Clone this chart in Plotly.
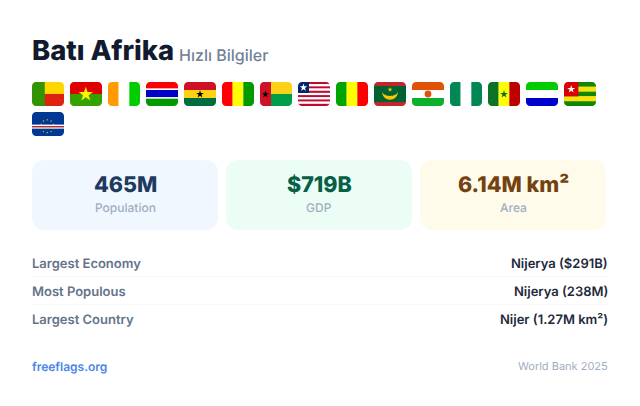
import math
import plotly.graph_objects as go

TITLE = "Batı Afrika"
SUBTITLE = "Hızlı Bilgiler"
FLAG_CODES = ["bj", "bf", "ci", "gm", "gh", "gn", "gw", "lr", "ml", "mr", "ne", "ng", "sn", "sl", "tg", "cv"]
STAT_VALUES = ["465M", "$719B", "6.14M km²"]
STAT_LABELS = ["Population", "GDP", "Area"]
STAT_BG = ["#f0f7ff", "#ebfdf5", "#fffbeb"]
STAT_FG = ["#1e3a5f", "#065f46", "#744210"]
FACT_LABELS = ["Largest Economy", "Most Populous", "Largest Country"]
FACT_VALUES = ["Nijerya ($291B)", "Nijerya (238M)", "Nijer (1.27M km²)"]
SOURCE_LEFT = "freeflags.org"
SOURCE_RIGHT = "World Bank 2025"

FONT = "Inter"
W, H = 640, 406
shapes, notes = [], []


def rrect(x0, y0, x1, y1, r):
    k = r * 0.4477
    return (f"M{x0+r},{y0} L{x1-r},{y0} C{x1-k},{y0} {x1},{y0+k} {x1},{y0+r} "
            f"L{x1},{y1-r} C{x1},{y1-k} {x1-k},{y1} {x1-r},{y1} "
            f"L{x0+r},{y1} C{x0+k},{y1} {x0},{y1-k} {x0},{y1-r} "
            f"L{x0},{y0+r} C{x0},{y0+k} {x0+k},{y0} {x0+r},{y0} Z")


def add_path(path, color):
    shapes.append(dict(type="path", path=path, fillcolor=color, line=dict(width=0), layer="above"))


def text(x, y, s, size, color, weight=400, anchor="left"):
    notes.append(dict(x=x, y=y, xref="x", yref="y", text=s, showarrow=False, xanchor=anchor,
                      yanchor="middle", borderpad=0, borderwidth=0,
                      font=dict(family=FONT, size=size, color=color, weight=weight)))


class Flag:
    """Draws in a 32x24 local box placed at (ox, oy)."""
    def __init__(self, ox, oy):
        self.ox, self.oy = ox, oy

    def rect(self, x0, y0, x1, y1, c):
        ox, oy = self.ox, self.oy
        add_path(f"M{ox+x0},{oy+y0} L{ox+x1},{oy+y0} L{ox+x1},{oy+y1} L{ox+x0},{oy+y1} Z", c)

    def hbands(self, *pairs):
        y = 0
        for h, c in pairs:
            self.rect(0, y, 32, y + h, c)
            y += h

    def vbands(self, *pairs):
        x = 0
        for w, c in pairs:
            self.rect(x, 0, x + w, 24, c)
            x += w

    def star(self, cx, cy, r, c):
        pts = []
        for i in range(10):
            rad = r if i % 2 == 0 else r * 0.382
            a = -math.pi / 2 + i * math.pi / 5
            pts.append(f"{self.ox+cx+rad*math.cos(a):.2f},{self.oy+cy+rad*math.sin(a):.2f}")
        add_path("M" + " L".join(pts) + " Z", c)

    def circle(self, cx, cy, r, c):
        ox, oy = self.ox, self.oy
        shapes.append(dict(type="circle", x0=ox+cx-r, x1=ox+cx+r, y0=oy+cy-r, y1=oy+cy+r,
                           fillcolor=c, line=dict(width=0), layer="above"))

    def raw(self, cmds, c):
        out = []
        for cmd, *nums in cmds:
            xy = [f"{self.ox+nums[i]},{self.oy+nums[i+1]}" for i in range(0, len(nums), 2)]
            out.append(cmd + " ".join(xy))
        add_path(" ".join(out) + " Z", c)

    def mask(self, r=4):
        ox, oy = self.ox, self.oy
        k = r * 0.4477
        x0, y0, x1, y1 = ox, oy, ox + 32, oy + 24
        add_path(f"M{x0},{y0} L{x0+r},{y0} C{x0+k},{y0} {x0},{y0+k} {x0},{y0+r} Z", "#ffffff")
        add_path(f"M{x1},{y0} L{x1-r},{y0} C{x1-k},{y0} {x1},{y0+k} {x1},{y0+r} Z", "#ffffff")
        add_path(f"M{x0},{y1} L{x0+r},{y1} C{x0+k},{y1} {x0},{y1-k} {x0},{y1-r} Z", "#ffffff")
        add_path(f"M{x1},{y1} L{x1-r},{y1} C{x1-k},{y1} {x1},{y1-k} {x1},{y1-r} Z", "#ffffff")


def draw_flag(code, f):
    third = 32 / 3
    if code == "bj":
        f.rect(0, 0, 32, 12, "#ffd600")
        f.rect(0, 12, 32, 24, "#de2110")
        f.rect(0, 0, 12.8, 24, "#319400")
    elif code == "bf":
        f.hbands((12, "#de0000"), (12, "#35a100"))
        f.star(15.8, 12.4, 7.6, "#fff300")
    elif code == "ci":
        f.vbands((third, "#ff9a00"), (third, "#ffffff"), (third, "#00cd00"))
    elif code == "gm":
        f.hbands((6.6, "#fd0000"), (1.4, "#ffffff"), (7.3, "#0000c6"), (1.4, "#ffffff"), (7.3, "#009a00"))
    elif code == "gh":
        f.hbands((8, "#ce1126"), (8, "#fcd116"), (8, "#006b3f"))
        f.star(16, 12.2, 4, "#000000")
    elif code == "gn":
        f.vbands((third, "#ff0000"), (third, "#ffff00"), (third, "#009a00"))
    elif code == "gw":
        f.rect(0, 0, 32, 12, "#fcd116")
        f.rect(0, 12, 32, 24, "#009e49")
        f.rect(0, 0, 11, 24, "#ce1126")
        f.star(5.5, 12.3, 3.8, "#000000")
    elif code == "lr":
        f.hbands(*[(24 / 11, "#bf0a30" if i % 2 == 0 else "#ffffff") for i in range(11)])
        f.rect(0, 0, 11, 11, "#002868")
        f.star(5.5, 5.6, 4, "#ffffff")
    elif code == "ml":
        f.vbands((third, "#00a400"), (third, "#ffff00"), (third, "#ff0000"))
    elif code == "mr":
        f.hbands((4, "#c1272d"), (16, "#006233"), (4, "#c1272d"))
        f.raw([("M", 8, 9.6), ("C", 8.5, 20.5, 23.5, 20.5, 24, 9.6), ("C", 22.5, 15.5, 9.5, 15.5, 8, 9.6)], "#ffc400")
        f.star(16, 7.6, 2.6, "#ffc400")
    elif code == "ne":
        f.hbands((8, "#e05206"), (8, "#ffffff"), (8, "#0db02b"))
        f.circle(16, 12, 3.4, "#e05206")
    elif code == "ng":
        f.vbands((third, "#008753"), (third, "#ffffff"), (third, "#008753"))
    elif code == "sn":
        f.vbands((third, "#0b7226"), (third, "#ffff00"), (third, "#bc0000"))
        f.star(16, 12.2, 4.2, "#0b7226")
    elif code == "sl":
        f.hbands((8, "#00cd00"), (8, "#ffffff"), (8, "#0000cd"))
    elif code == "tg":
        colors = ["#118600", "#ffe300", "#118600", "#ffe300", "#118600"]
        f.hbands(*[(4.8, c) for c in colors])
        f.rect(0, 0, 14.4, 14.4, "#d80000")
        f.star(7.2, 7.2, 4.2, "#ffffff")
    elif code == "cv":
        f.rect(0, 0, 32, 24, "#003893")
        f.hbands((12.6, "#003893"), (1.4, "#ffffff"), (1.4, "#cf2027"), (1.4, "#ffffff"), (7.2, "#003893"))
        for i in range(10):
            a = -math.pi / 2 + i * math.pi / 5
            f.star(15.3 + 6.4 * math.cos(a), 14.3 + 6.4 * math.sin(a), 1.1, "#f7d116")
    f.mask()


# header
text(32, 50, TITLE, 27.4, "#111a2e", 800)
text(178.5, 54.5, SUBTITLE, 16, "#718096", 500)

# flags
for i, code in enumerate(FLAG_CODES):
    col, row = i % 15, i // 15
    draw_flag(code, Flag(32 + col * 38, 82 + row * 30))

# stat cards
for i, (v, l) in enumerate(zip(STAT_VALUES, STAT_LABELS)):
    x0 = 32 + i * 194
    add_path(rrect(x0, 160, x0 + 186, 230, 12), STAT_BG[i])
    text(x0 + 93, 184, v, 21.5, STAT_FG[i], 800, "center")
    text(x0 + 93, 207, l, 12, "#a0aec0", 500, "center")

# fact rows
for i, (l, v) in enumerate(zip(FACT_LABELS, FACT_VALUES)):
    y = 264 + i * 28
    text(32, y - 1, l, 13, "#64748b", 600)
    text(608, y - 1, v, 13, "#1e293b", 600, "right")
    if i < len(FACT_LABELS) - 1:
        add_path(f"M32,{y+12} L608,{y+12} L608,{y+13} L32,{y+13} Z", "#f7f8fa")

# footer
text(32, 366, SOURCE_LEFT, 12, "#4a86e8", 600)
text(608, 366, SOURCE_RIGHT, 11, "#a0aec0", 400, "right")

fig = go.Figure()
fig.update_layout(
    width=W, height=H, margin=dict(l=0, r=0, t=0, b=0), autosize=False,
    paper_bgcolor="#ffffff", plot_bgcolor="#ffffff", showlegend=False,
    xaxis=dict(range=[0, W], visible=False, fixedrange=True),
    yaxis=dict(range=[H, 0], visible=False, fixedrange=True),
    shapes=shapes, annotations=notes,
)
fig.write_html("out.html", config={"displayModeBar": False},
               post_script="document.body.style.margin='0';document.documentElement.style.overflow='hidden';"
                           "var s=document.createElement('style');s.textContent='svg text{text-rendering:geometricPrecision}';document.head.appendChild(s);")
